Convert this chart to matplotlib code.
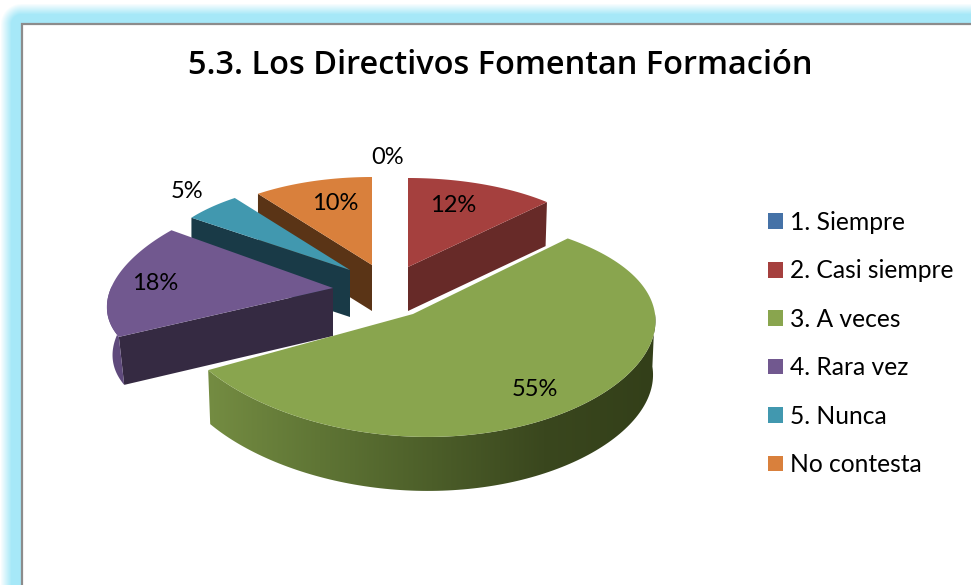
import numpy as np
import matplotlib
matplotlib.use('Agg')
import matplotlib.pyplot as plt
from matplotlib.colors import LinearSegmentedColormap
from matplotlib.patches import Patch, Polygon, Rectangle

# Data
title = '5.3. Los Directivos Fomentan Formación'
categories = ['1. Siempre', '2. Casi siempre', '3. A veces', '4. Rara vez', '5. Nunca', 'No contesta']
values = [0, 12, 55, 18, 5, 10]

# Colours
top_colors = ['#4572a7', '#a5403e', '#89a54e', '#71588f', '#4198af', '#d9803c']
face_colors = ['#2a4565', '#672a28', '#55682f', '#352a42', '#193a47', '#5a3416']
rim_colors = {
    2: ['#748c42', '#5f7535', '#4c5e29', '#3a471e', '#333f19'],
    3: ['#5f4a7c', '#5f4a7c'],
}

# Projection of each slice: apex x, apex y, radius x, radius y, perspective x, perspective y, shear, depth
proj = [
    (408, 267, 203, 89, 0.0, 0.0, 0, 45),
    (408, 267, 203, 89, 0.0, 0.0, 0, 44),
    (413, 314, 242, 111, 0.0, 0.097, 15, 54),
    (333, 288, 222, 100, 0.19, 0.03, 0, 48),
    (350, 270, 196, 89, 0.0, 0.0, 0, 47),
    (372, 265, 194, 88, 0.0, 0.0, 0, 46),
]
# lower edge of the pie sits a little closer to the apex
taper = [0.025, 0.01, 0.01, 0.025, 0.0, 0.0]
draw_order = [5, 1, 4, 3, 2]
label_pos = [(388, 158), (453, 206), (535, 390), (155, 284), (187, 191), (335, 204)]


def project(p, theta):
    ax0, ay0, rx, ry, kx, ky, shear, depth = p
    u, v = np.sin(theta), np.cos(theta)
    x = ax0 + rx * u / (1 + kx * v) - shear * v
    y = ay0 - ry * v / (1 + ky * v)
    return x, y


fig = plt.figure(figsize=(9.71, 5.85), dpi=100)
ax = fig.add_axes([0, 0, 1, 1])
ax.set_xlim(0, 971)
ax.set_ylim(585, 0)
ax.axis('off')

# Blue glow round the panel
yy, xx = np.mgrid[0:585, 0:971]
dist = np.hypot(np.clip(21 - xx, 0, None), np.clip(24 - yy, 0, None))
glow = np.clip((21 - dist) / 11, 0, 1)
cmap = LinearSegmentedColormap.from_list('glow', ['#ffffff', '#a6e8f8'])
ax.imshow(glow, cmap=cmap, extent=(0, 971, 585, 0), aspect='auto', zorder=0)
ax.add_patch(Rectangle((21.5, 24), 960, 570, facecolor='white', edgecolor='#8c8c8c', lw=1.6, zorder=1))

# Slices
edges = np.cumsum([0] + values) / sum(values) * 2 * np.pi
z = 2
for i in draw_order:
    p = proj[i]
    d = p[-1]
    theta = np.linspace(edges[i], edges[i + 1], 160)
    x, y = project(p, theta)
    xb = x + (p[0] - x) * taper[i]

    # cut face that looks at the viewer
    if i != 2:
        k = -1 if i == 1 else 0
        ax.fill([p[0], x[k], xb[k], p[0]], [p[1], y[k], y[k] + d, p[1] + d], color=face_colors[i], lw=0, zorder=z)

    # outer rim, only the part that faces down
    front = np.cos(theta) < 0.02
    if i in rim_colors:
        xf, yf, xg = x[front], y[front], xb[front]
        rim = Polygon(np.c_[np.r_[xf, xg[::-1]], np.r_[yf, yf[::-1] + d]], transform=ax.transData)
        shade = LinearSegmentedColormap.from_list('rim', rim_colors[i])
        im = ax.imshow(np.linspace(0, 1, 256)[None, :], cmap=shade, aspect='auto', zorder=z,
                       extent=(min(xf.min(), xg.min()), max(xf.max(), xg.max()), yf.max() + d, yf.min()))
        im.set_clip_path(rim)

    ax.fill(np.r_[p[0], x], np.r_[p[1], y], color=top_colors[i], lw=0, zorder=z + 0.5)
    z += 1

ax.set_xlim(0, 971)
ax.set_ylim(585, 0)

# Labels
for v, (lx, ly) in zip(values, label_pos):
    ax.text(lx, ly, f'{v}%', ha='center', va='center', fontsize=17, family='Lato', color='black', zorder=20)

ax.text(500, 66, title, ha='center', va='center', fontsize=23.4, family='Open Sans', fontweight='semibold', zorder=20)

handles = [Patch(facecolor=c, edgecolor='none') for c in top_colors]
ax.legend(handles, categories, loc='upper left', bbox_to_anchor=(768, 211), bbox_transform=ax.transData,
          frameon=False, prop={'family': 'Lato', 'size': 17.7}, handlelength=0.61, handleheight=0.61,
          handletextpad=0.28, labelspacing=1.034, borderpad=0, borderaxespad=0)

fig.savefig('out.png', dpi=100)
